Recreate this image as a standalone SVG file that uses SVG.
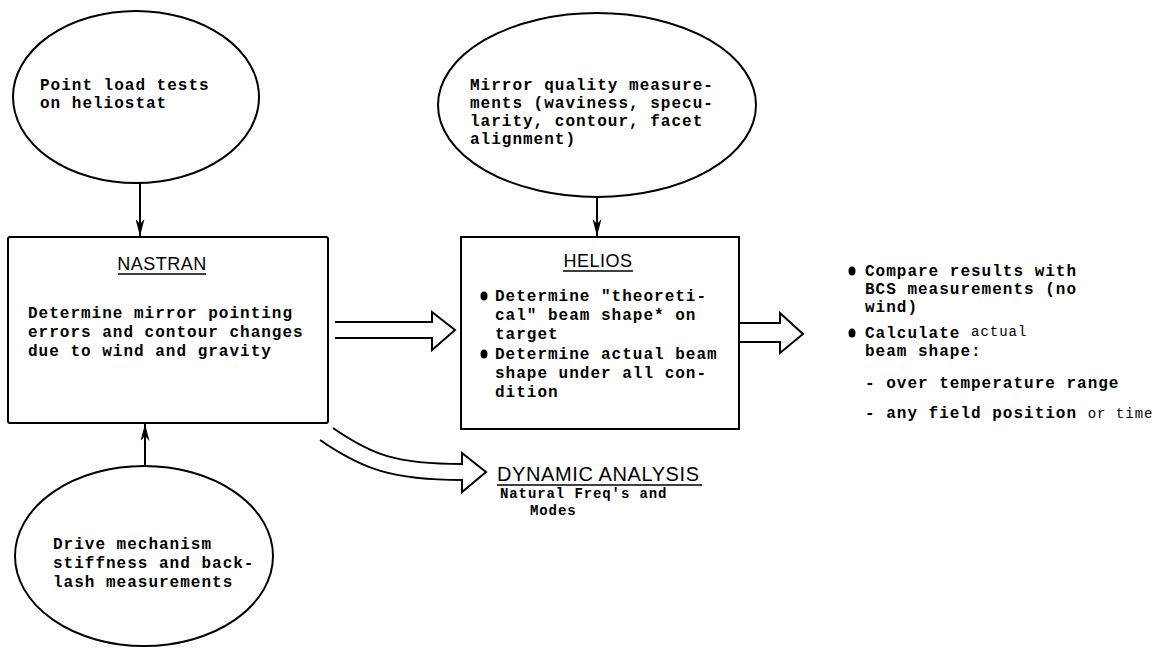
<svg xmlns="http://www.w3.org/2000/svg" width="1165" height="652" viewBox="0 0 1165 652">
<defs>
<marker id="ah" markerWidth="17" markerHeight="9" refX="17" refY="4.5" orient="auto" markerUnits="userSpaceOnUse" viewBox="0 0 17 9">
<path d="M0,0 L17,4.5 L0,9 L5,4.5 Z" fill="#000"/>
</marker>
<style>
.shape{fill:#fff;stroke:#000;stroke-width:2}
.ln{fill:none;stroke:#000;stroke-width:2}
.tw{font-family:"Liberation Mono","DejaVu Sans Mono",monospace;font-weight:bold;font-size:16px;letter-spacing:1px;fill:#000}
.tt{font-family:"Liberation Sans","DejaVu Sans",sans-serif;font-size:18px;letter-spacing:0.5px;fill:#000;text-anchor:middle}
.ul{stroke:#000;stroke-width:1.5}
</style>
</defs>
<rect width="1165" height="652" fill="#fff"/>

<g id="point-load">
<ellipse class="shape" cx="136" cy="97" rx="123" ry="86"/>
<text class="tw" x="40" y="90">Point load tests</text>
<text class="tw" x="40" y="108">on heliostat</text>
</g>

<g id="nastran">
<rect class="shape" x="8" y="237" width="320" height="186" rx="2"/>
<text class="tt" x="162" y="270">NASTRAN</text>
<line class="ul" x1="118" y1="274" x2="206" y2="274"/>
<text class="tw" x="28" y="318">Determine mirror pointing</text>
<text class="tw" x="28" y="337">errors and contour changes</text>
<text class="tw" x="28" y="356">due to wind and gravity</text>
</g>

<g id="mirror">
<ellipse class="shape" cx="597" cy="105" rx="159" ry="92"/>
<text class="tw" x="470" y="90">Mirror quality measure-</text>
<text class="tw" x="470" y="108">ments (waviness, specu-</text>
<text class="tw" x="470" y="126">larity, contour, facet</text>
<text class="tw" x="470" y="144">alignment)</text>
</g>

<g id="helios">
<rect class="shape" x="461" y="237" width="278" height="192"/>
<text class="tt" x="598" y="267">HELIOS</text>
<line class="ul" x1="563" y1="271" x2="633" y2="271"/>
<ellipse cx="484" cy="296" rx="3.5" ry="4.5"/>
<text class="tw" x="495" y="301">Determine "theoreti-</text>
<text class="tw" x="495" y="320">cal" beam shape* on</text>
<text class="tw" x="495" y="339">target</text>
<ellipse cx="484" cy="354" rx="3.5" ry="4.5"/>
<text class="tw" x="495" y="359">Determine actual beam</text>
<text class="tw" x="495" y="378">shape under all con-</text>
<text class="tw" x="495" y="397">dition</text>
</g>

<g id="results">
<ellipse cx="852" cy="271" rx="3.5" ry="4.5"/>
<text class="tw" x="865" y="276">Compare results with</text>
<text class="tw" x="865" y="294">BCS measurements (no</text>
<text class="tw" x="865" y="312">wind)</text>
<ellipse cx="852" cy="333" rx="3.5" ry="4.5"/>
<text class="tw" x="865" y="338">Calculate <tspan font-size="14" font-weight="normal" dy="-2">actual</tspan></text>
<text class="tw" x="865" y="356">beam shape:</text>
<text class="tw" x="865" y="388">- over temperature range</text>
<text class="tw" x="865" y="418">- any field position <tspan font-weight="normal" font-size="14">or time</tspan></text>
</g>

<g id="drive">
<ellipse class="shape" cx="144" cy="556" rx="129" ry="90"/>
<text class="tw" x="53" y="549">Drive mechanism</text>
<text class="tw" x="53" y="568">stiffness and back-</text>
<text class="tw" x="53" y="587">lash measurements</text>
</g>

<g id="dynamic">
<text class="tt" x="497" y="481" style="text-anchor:start;font-size:20px;letter-spacing:0.6px">DYNAMIC ANALYSIS</text>
<line class="ul" x1="497" y1="485" x2="702" y2="485"/>
<text class="tw" x="500" y="498" style="font-size:14px;letter-spacing:0.9px">Natural Freq's and</text>
<text class="tw" x="530" y="515" style="font-size:14px;letter-spacing:0.9px">Modes</text>
</g>

<g id="connectors">
<line class="ln" x1="140" y1="183" x2="140" y2="236" marker-end="url(#ah)"/>
<line class="ln" x1="597" y1="197" x2="597" y2="236" marker-end="url(#ah)"/>
<line class="ln" x1="145" y1="466" x2="145" y2="424" marker-end="url(#ah)"/>
<path class="ln" d="M335,322 L432,322 L432,312 L455,330 L432,350 L432,338 L335,338"/>
<path class="ln" d="M740,323 L780,323 L780,313 L803,334 L780,353 L780,342 L740,342"/>
<path class="ln" d="M333,428 C372,455 396,464 462,464 L462,453 L486,472 L462,492 L462,480 C392,480 362,469 320,440"/>
</g>
</svg>
